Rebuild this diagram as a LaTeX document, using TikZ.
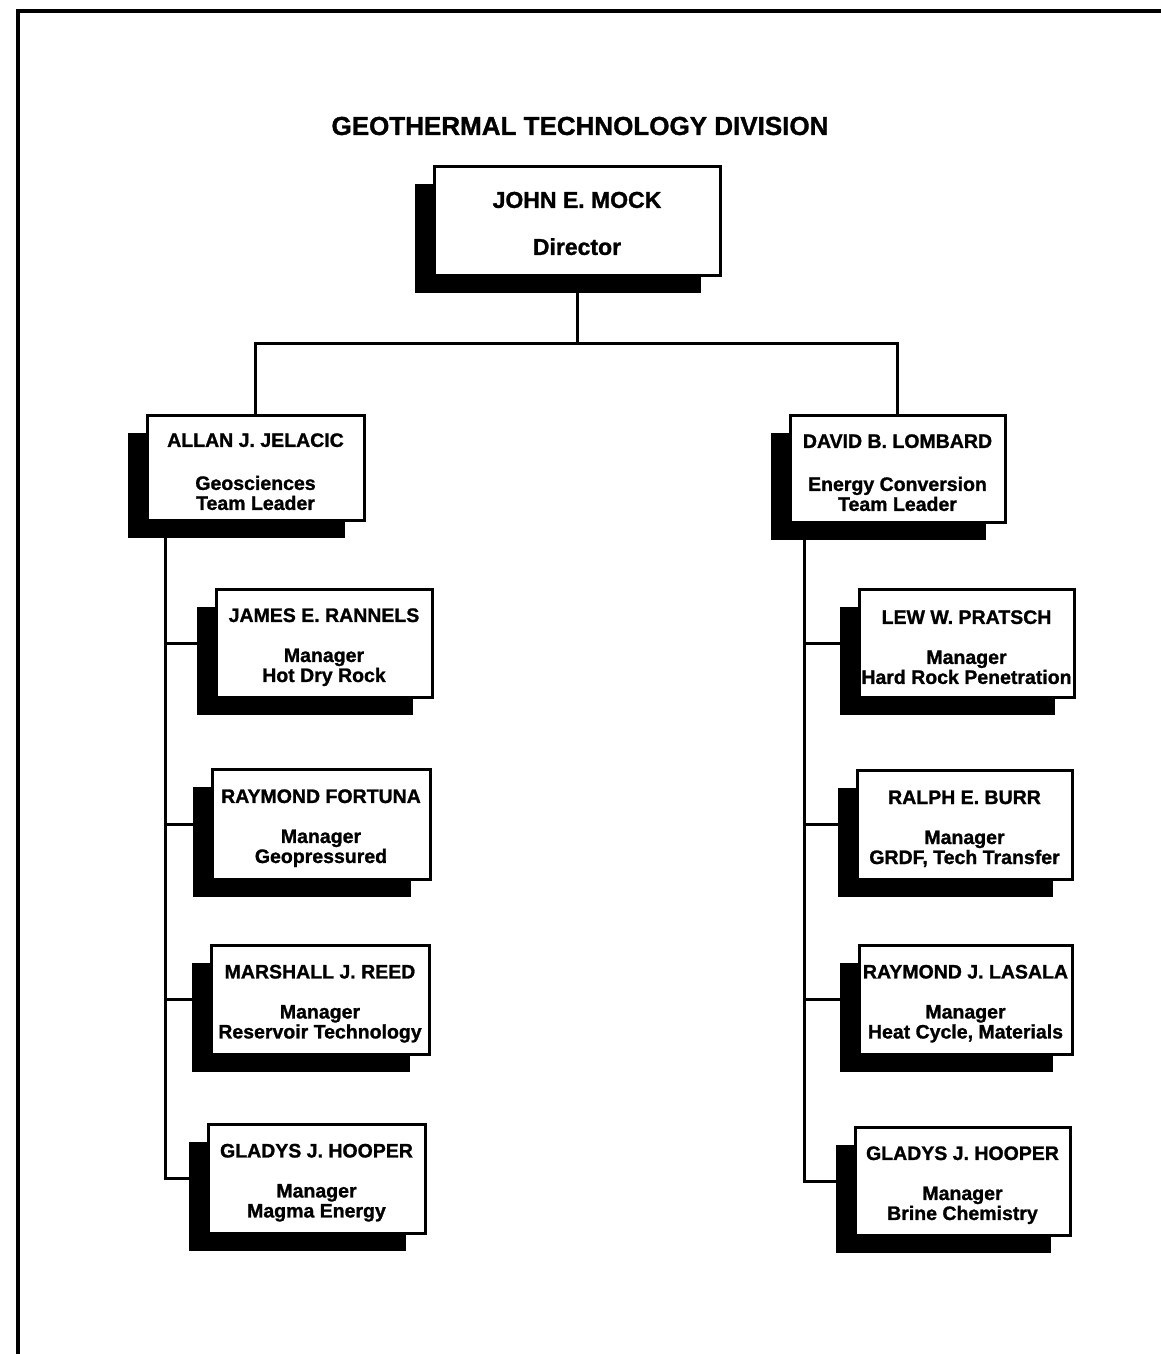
\documentclass[tikz,border=0pt]{standalone}
\usepackage{fontspec}
\setmainfont{Liberation Sans}[BoldFeatures={FakeBold=1.2}]
\usetikzlibrary{shadows,backgrounds}

% strut that lowers a text block a little inside its box
\newcommand\topstrut{\rule{0pt}{22pt}}

\tikzset{
  unitbox/.style={draw, line width=3pt, fill=white, inner sep=0pt, align=center,
    font=\fontsize{19.5}{20}\selectfont\bfseries,
    general shadow={fill=black, shadow xshift=-19pt, shadow yshift=-18pt}},
  conn/.style={line width=3pt},
  frame/.style={line width=4pt},
}

\begin{document}
\begin{tikzpicture}[x=1pt, y=-1pt]
\useasboundingbox (0,0) rectangle (1160,1354);

% division title
\node[font=\fontsize{26}{26}\selectfont\bfseries] (title) at (580,126) {GEOTHERMAL TECHNOLOGY DIVISION};

% director
\node[unitbox, minimum width=286pt, minimum height=109pt,
      font=\fontsize{23}{23}\selectfont\bfseries] (mock) at (577,220.5)
  {\topstrut JOHN E. MOCK\\[24pt]Director};

% team leaders
\node[unitbox, minimum width=217pt, minimum height=105pt] (jelacic) at (255.5,467.5)
  {\topstrut ALLAN J. JELACIC\\[23pt]Geosciences\\Team Leader};
\node[unitbox, minimum width=215pt, minimum height=107pt] (lombard) at (897.5,468.5)
  {\topstrut DAVID B. LOMBARD\\[23pt]Energy Conversion\\Team Leader};

% geosciences managers
\node[unitbox, minimum width=216pt, minimum height=108pt] (rannels) at (324,643)
  {\topstrut JAMES E. RANNELS\\[20pt]Manager\\Hot Dry Rock};
\node[unitbox, minimum width=218pt, minimum height=110pt] (fortuna) at (321,824)
  {\topstrut RAYMOND FORTUNA\\[20pt]Manager\\Geopressured};
\node[unitbox, minimum width=218pt, minimum height=109pt] (reed) at (320,999.5)
  {\topstrut MARSHALL J. REED\\[20pt]Manager\\Reservoir Technology};
\node[unitbox, minimum width=217pt, minimum height=109pt] (hooperL) at (316.5,1178.5)
  {\topstrut GLADYS J. HOOPER\\[20pt]Manager\\Magma Energy};

% energy conversion managers
\node[unitbox, minimum width=215pt, minimum height=108pt] (pratsch) at (966.5,643)
  {\topstrut LEW W. PRATSCH\\[20pt]Manager\\Hard Rock Penetration};
\node[unitbox, minimum width=215pt, minimum height=109pt] (burr) at (964.5,824.5)
  {\topstrut RALPH E. BURR\\[20pt]Manager\\GRDF, Tech Transfer};
\node[unitbox, minimum width=213pt, minimum height=109pt] (lasala) at (965.5,999.5)
  {\topstrut RAYMOND J. LASALA\\[20pt]Manager\\Heat Cycle, Materials};
\node[unitbox, minimum width=215pt, minimum height=108pt] (hooperR) at (962.5,1181)
  {\topstrut GLADYS J. HOOPER\\[20pt]Manager\\Brine Chemistry};

\begin{scope}[on background layer]
  \fill[white] (0,0) rectangle (1160,1354);
  % page frame
  \draw[frame] (18,1360) |- (1170,11);

  % director to team leaders
  \coordinate (bus) at (577,343);
  \draw[conn] (mock.south) -- (mock.south |- bus);
  \draw[conn] (jelacic.north) |- (bus) -| (lombard.north);

  % geosciences spine
  \coordinate (lspine) at ([xshift=20pt]jelacic.south west);
  \draw[conn] (lspine) |- (hooperL.west);
  \draw[conn] (lspine |- rannels.west) -- (rannels.west);
  \draw[conn] (lspine |- fortuna.west) -- (fortuna.west);
  \draw[conn] (lspine |- reed.west) -- (reed.west);

  % energy conversion spine
  \coordinate (rspine) at ([xshift=16pt]lombard.south west);
  \draw[conn] (rspine) |- (hooperR.west);
  \draw[conn] (rspine |- pratsch.west) -- (pratsch.west);
  \draw[conn] (rspine |- burr.west) -- (burr.west);
  \draw[conn] (rspine |- lasala.west) -- (lasala.west);
\end{scope}
\end{tikzpicture}
\end{document}
